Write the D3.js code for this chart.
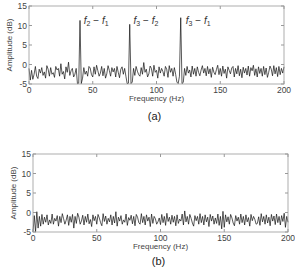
<!DOCTYPE html>
<html lang="en">

<body style="margin:0;background:#fff">
    <script type='text/javascript' src='https://d3js.org/d3.v7.min.js'></script>
    <style>
        text { font-family: "Liberation Sans", Arial, sans-serif; }
    </style>
    <script>
        // 1 Hz grid, 0..200 Hz
        var ampA = [-1.0, -4.0, -1.5, -3.8, -2.5, -0.5, -3.0, -3.6, -1.2, -2.2,
            -0.8, -2.8, -1.9, -3.5, -0.3, -1.2, -3.0, -0.8, -2.5, -2.1,
            -3.3, -0.5, -1.4, -1.0, -3.0, 0.2, -2.5, -1.8, -3.7, -0.6,
            -2.0, 0.6, -2.8, -1.6, -1.0, -3.2, -2.5, -1.0, -4.9, -4.8,
            11.3, -4.9, -3.5, -0.8, -2.5, -1.7, -3.0, -0.5, -0.9, -2.6,
            -3.2, -0.6, -2.5, -0.2, -1.6, -3.0, -2.2, -0.5, -2.9, -1.0,
            -3.5, -2.4, -0.3, -1.5, -3.0, -0.8, -1.9, -1.0, -3.2, -0.5,
            -2.0, -3.4, -1.2, -0.6, -2.5, -1.0, -3.0, -4.9, -4.8, 10.3,
            -4.9, -4.5, -1.0, -2.8, -0.5, -1.7, -2.6, -3.0, -0.8, -2.5,
            0.5, -2.0, -1.2, -3.2, -2.4, -0.4, -1.0, -3.0, -0.2, -2.0,
            -1.5, -3.5, -0.6, -2.2, -1.0, -1.8, -3.0, -0.5, -1.2, -3.3,
            -0.3, -2.0, -1.0, -3.0, -0.8, -2.5, -4.5, -4.9, -3.0, 12.0,
            -4.9, -4.6, -1.0, -2.8, -0.5, -2.2, -1.4, -3.2, -0.4, -2.5,
            -1.0, -3.0, -0.6, -2.0, -2.9, -1.4, -0.3, -2.2, -1.0, -2.9,
            -0.5, -2.4, -1.1, -3.3, -0.7, -2.0, -2.6, -1.3, -0.2, -2.6,
            -1.0, -3.0, -0.4, -2.3, -1.2, -3.5, -0.6, -1.5, -2.4, -0.9,
            -0.5, -3.2, -1.0, -2.4, -0.3, -2.9, -1.2, -3.4, -0.7, -2.2,
            -1.0, -2.7, -0.4, -3.0, -0.8, -1.6, -0.2, -2.8, -1.1, -3.2,
            -0.6, -2.3, -1.0, -3.0, -0.5, -2.6, -0.9, -3.3, -2.0, -0.4,
            -1.2, -2.9, -0.3, -2.4, -0.8, -3.1, -0.5, -2.6, -1.0, -2.2,
            -0.6];

        var ampB = [-5.0, -0.8, -5.0, 0.2, -4.0, -1.0, -3.5, -0.5, -3.0, -1.2,
            -2.5, -0.6, -3.2, -1.9, -2.8, -0.4, -3.0, -1.5, -2.2, -0.8,
            -3.5, -1.0, -2.6, -0.3, -1.6, -3.0, -2.0, -0.6, -3.3, -1.0,
            -2.5, -0.5, -4.0, -1.0, -2.8, -0.2, -1.2, -3.0, -2.2, -0.7,
            -3.2, -1.0, -2.5, -0.4, -2.9, -1.8, -3.6, -0.6, -2.1, -1.0,
            -3.0, -0.5, -1.4, -2.6, -3.4, -0.3, -2.3, -0.9, -3.0, -1.5,
            -2.4, -0.6, -3.2, -1.0, -2.7, 0.2, -3.5, -1.2, -2.2, -0.8,
            -3.0, -1.9, -2.5, -0.4, -3.3, -1.3, -2.0, -0.7, -2.9, -1.0,
            -3.4, -0.5, -1.2, -2.6, -3.0, -0.3, -2.6, -1.0, -3.2, -0.6,
            -2.2, -1.2, -3.6, -0.4, -2.8, -1.0, -1.6, -3.0, -2.4, -1.4,
            -3.1, -0.5, -2.6, -1.0, -3.3, -0.2, -2.3, -1.2, -3.0, -0.7,
            -2.5, -1.0, -3.4, -0.6, -2.8, -1.7, -2.2, -0.4, -3.2, 0.4,
            -2.4, -1.0, -3.0, -0.5, -1.5, -2.7, -3.5, -0.8, -2.1, -1.0,
            -3.0, -0.3, -2.6, -1.0, -3.2, -0.6, -2.4, -1.2, -3.6, -0.5,
            -2.2, -0.9, -3.0, -1.4, -2.8, -0.4, -3.3, -1.0, -4.2, 0.3,
            -3.8, -0.6, -2.4, -1.1, -3.0, -0.5, -1.4, -2.7, -3.4, -0.8,
            -2.2, -1.2, -3.0, -0.4, -2.6, -1.0, -3.2, -0.6, -2.4, -1.3,
            -3.5, -0.5, -2.1, -1.0, -1.8, -3.0, -2.8, -1.1, -3.3, -0.3,
            -2.4, -1.0, -3.0, -0.6, -2.7, -1.2, -3.4, -0.5, -2.2, -0.9,
            -3.1, -0.4, -2.6, -1.0, -3.2, -0.8, -2.3, -0.2, -3.8, -1.0,
            -2.5];

        var xTicks = [0, 50, 100, 150, 200];
        var yTicks = [-5, 0, 5, 10, 15];
        var peakLabels = [
            { f: 43, a: 10.3, p: "2", q: "1" },
            { f: 82, a: 10.3, p: "3", q: "2" },
            { f: 123, a: 10.3, p: "3", q: "1" }
        ];

        var W = 295, H = 269;
        var svg = d3.select("body").append("svg")
            .attr("width", W).attr("height", H);

        function panel(data, box, tag, tagY, labels) {
            var x = d3.scaleLinear().domain([0, 200]).range([box.l, box.r]);
            var y = d3.scaleLinear().domain([-5, 15]).range([box.b, box.t]);
            var g = svg.append("g");

            g.append("path")
                .datum(data)
                .attr("fill", "none")
                .attr("stroke", "#111")
                .attr("stroke-width", 0.7)
                .attr("d", d3.line().x(function (d, i) { return x(i); }).y(function (d) { return y(d); }));

            g.append("rect")
                .attr("x", box.l).attr("y", box.t)
                .attr("width", box.r - box.l).attr("height", box.b - box.t)
                .attr("fill", "none").attr("stroke", "#999").attr("stroke-width", 0.8);

            var tk = 3;
            xTicks.forEach(function (t) {
                g.append("line").attr("x1", x(t)).attr("x2", x(t)).attr("y1", box.b).attr("y2", box.b - tk).attr("stroke", "#999");
                g.append("line").attr("x1", x(t)).attr("x2", x(t)).attr("y1", box.t).attr("y2", box.t + tk).attr("stroke", "#999");
                g.append("text").attr("x", x(t)).attr("y", box.b + 9)
                    .attr("text-anchor", "middle").attr("font-size", 8.5).attr("fill", "#444").text(t);
            });
            yTicks.forEach(function (t) {
                g.append("line").attr("y1", y(t)).attr("y2", y(t)).attr("x1", box.l).attr("x2", box.l + tk).attr("stroke", "#999");
                g.append("line").attr("y1", y(t)).attr("y2", y(t)).attr("x1", box.r).attr("x2", box.r - tk).attr("stroke", "#999");
                g.append("text").attr("x", box.l - 2).attr("y", y(t) + 3)
                    .attr("text-anchor", "end").attr("font-size", 8.5).attr("fill", "#444").text(t);
            });

            g.append("text")
                .attr("transform", "translate(" + (box.l - 17) + "," + ((box.t + box.b) / 2) + ") rotate(-90)")
                .attr("text-anchor", "middle").attr("font-size", 8).attr("fill", "#444")
                .text("Amplitude (dB)");
            g.append("text")
                .attr("x", (box.l + box.r) / 2).attr("y", box.b + 17)
                .attr("text-anchor", "middle").attr("font-size", 8).attr("fill", "#444")
                .text("Frequency (Hz)");
            g.append("text")
                .attr("x", (box.l + box.r) / 2 - 2).attr("y", tagY)
                .attr("text-anchor", "middle").attr("font-size", 11).attr("fill", "#222")
                .text(tag);

            labels.forEach(function (d) {
                var t = g.append("text")
                    .attr("x", x(d.f)).attr("y", y(d.a))
                    .attr("font-family", "'DejaVu Serif', 'Liberation Serif', serif")
                    .attr("font-size", 10).attr("fill", "#333");
                t.append("tspan").attr("font-style", "italic").text("f");
                t.append("tspan").attr("font-size", 7).attr("dy", 2).text(d.p);
                t.append("tspan").attr("dy", -2).text(" \u2212 ");
                t.append("tspan").attr("font-style", "italic").text("f");
                t.append("tspan").attr("font-size", 7).attr("dy", 2).text(d.q);
            });
        }

        panel(ampA, { l: 29, r: 284, t: 6, b: 84 }, "(a)", 120, peakLabels);
        panel(ampB, { l: 33, r: 288, t: 154, b: 232 }, "(b)", 265, []);
    </script>

</body>

</html>
